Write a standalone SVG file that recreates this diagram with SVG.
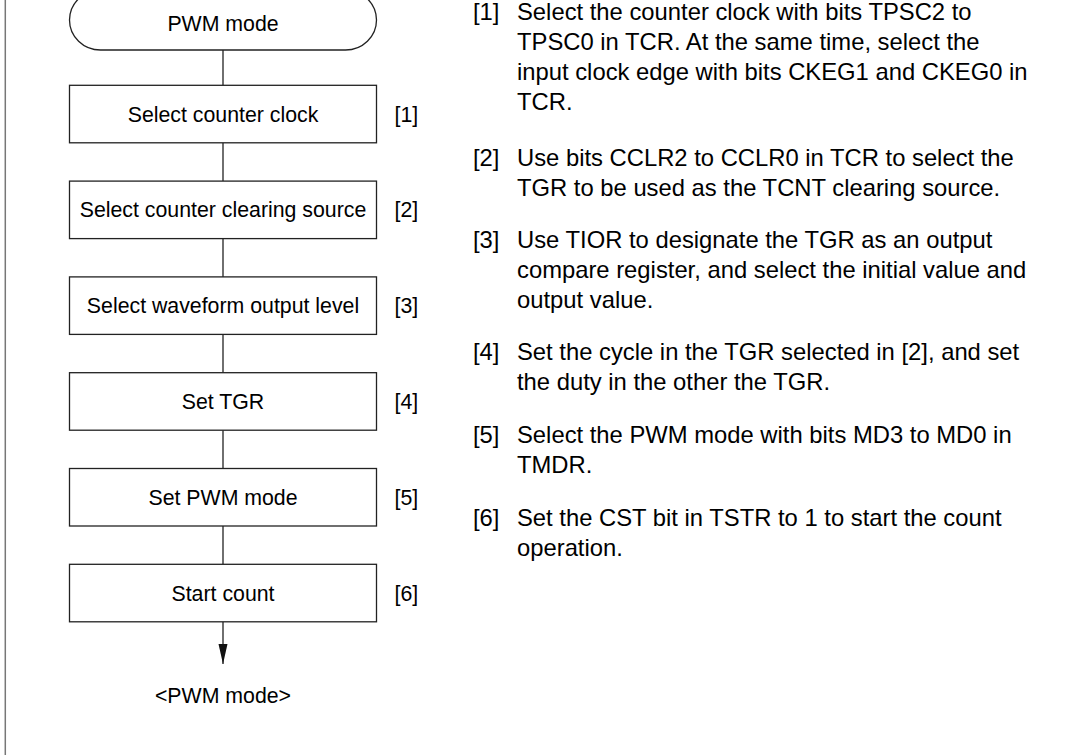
<svg xmlns="http://www.w3.org/2000/svg" width="1079" height="755" viewBox="0 0 1079 755">
<defs>
<style>
.shape{fill:#fff;stroke:#222;stroke-width:1.3}
.conn{fill:none;stroke:#222;stroke-width:1.3}
.lbl{font-family:"Liberation Sans",Arial,sans-serif;font-size:21.3px;fill:#000;text-anchor:middle}
.num{font-family:"Liberation Sans",Arial,sans-serif;font-size:21.3px;fill:#000}
.desc{font-family:"Liberation Sans",Arial,sans-serif;font-size:23.8px;fill:#000}
</style>
</defs>
<rect width="1079" height="755" fill="#fff"/>
<line x1="5.3" y1="0" x2="5.3" y2="755" stroke="#777" stroke-width="1.5"/>

<g id="connectors">
<line class="conn" x1="223" y1="50" x2="223" y2="85.3"/>
<line class="conn" x1="223" y1="142.8" x2="223" y2="181.1"/>
<line class="conn" x1="223" y1="238.6" x2="223" y2="276.9"/>
<line class="conn" x1="223" y1="334.4" x2="223" y2="372.7"/>
<line class="conn" x1="223" y1="430.2" x2="223" y2="468.5"/>
<line class="conn" x1="223" y1="526" x2="223" y2="564.3"/>
<line class="conn" x1="223" y1="621.8" x2="223" y2="664"/>
<path d="M218.5,644 L227.5,644 L223,664 Z" fill="#111"/>
</g>

<g id="start">
<rect class="shape" x="69.5" y="-10" width="307" height="60" rx="31" ry="30"/>
<text class="lbl" x="223" y="31">PWM mode</text>
</g>
<g id="step1">
<rect class="shape" x="69.5" y="85.3" width="307" height="57.5"/>
<text class="lbl" x="223" y="121.5">Select counter clock</text>
<text class="num" x="394.5" y="121.5">[1]</text>
</g>
<g id="step2">
<rect class="shape" x="69.5" y="181.1" width="307" height="57.5"/>
<text class="lbl" x="223" y="217.3">Select counter clearing source</text>
<text class="num" x="394.5" y="217.3">[2]</text>
</g>
<g id="step3">
<rect class="shape" x="69.5" y="276.9" width="307" height="57.5"/>
<text class="lbl" x="223" y="313.1">Select waveform output level</text>
<text class="num" x="394.5" y="313.1">[3]</text>
</g>
<g id="step4">
<rect class="shape" x="69.5" y="372.7" width="307" height="57.5"/>
<text class="lbl" x="223" y="408.9">Set TGR</text>
<text class="num" x="394.5" y="408.9">[4]</text>
</g>
<g id="step5">
<rect class="shape" x="69.5" y="468.5" width="307" height="57.5"/>
<text class="lbl" x="223" y="504.7">Set PWM mode</text>
<text class="num" x="394.5" y="504.7">[5]</text>
</g>
<g id="step6">
<rect class="shape" x="69.5" y="564.3" width="307" height="57.5"/>
<text class="lbl" x="223" y="600.5">Start count</text>
<text class="num" x="394.5" y="600.5">[6]</text>
</g>
<g id="end">
<text class="lbl" x="223" y="703">&lt;PWM mode&gt;</text>
</g>

<g id="notes">
<text class="desc" x="473" y="20">[1]</text>
<text class="desc" x="517" y="20">Select the counter clock with bits TPSC2 to</text>
<text class="desc" x="517" y="50">TPSC0 in TCR. At the same time, select the</text>
<text class="desc" x="517" y="80">input clock edge with bits CKEG1 and CKEG0 in</text>
<text class="desc" x="517" y="110">TCR.</text>

<text class="desc" x="473" y="166">[2]</text>
<text class="desc" x="517" y="166">Use bits CCLR2 to CCLR0 in TCR to select the</text>
<text class="desc" x="517" y="196">TGR to be used as the TCNT clearing source.</text>

<text class="desc" x="473" y="248">[3]</text>
<text class="desc" x="517" y="248">Use TIOR to designate the TGR as an output</text>
<text class="desc" x="517" y="278">compare register, and select the initial value and</text>
<text class="desc" x="517" y="307.5">output value.</text>

<text class="desc" x="473" y="359.5">[4]</text>
<text class="desc" x="517" y="359.5">Set the cycle in the TGR selected in [2], and set</text>
<text class="desc" x="517" y="389.5">the duty in the other the TGR.</text>

<text class="desc" x="473" y="443">[5]</text>
<text class="desc" x="517" y="443">Select the PWM mode with bits MD3 to MD0 in</text>
<text class="desc" x="517" y="473">TMDR.</text>

<text class="desc" x="473" y="526">[6]</text>
<text class="desc" x="517" y="526">Set the CST bit in TSTR to 1 to start the count</text>
<text class="desc" x="517" y="556">operation.</text>
</g>
</svg>
